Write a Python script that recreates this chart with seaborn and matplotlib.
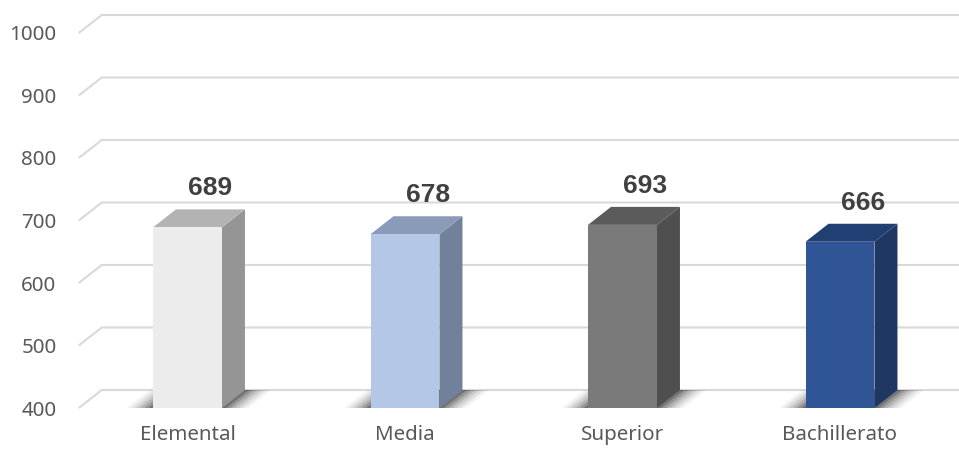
import matplotlib
matplotlib.use("Agg")
import matplotlib.pyplot as plt
from matplotlib.patches import Polygon
import seaborn as sns
import pandas as pd

categories = ["Elemental", "Media", "Superior", "Bachillerato"]
values = [689, 678, 693, 666]
front_colors = ["#ECECEC", "#B4C7E7", "#7A7A7A", "#2F5597"]
top_colors = ["#B3B3B3", "#8A9AB8", "#5B5B5B", "#223F74"]
side_colors = ["#959595", "#72819B", "#4F4F4F", "#1F3763"]
y_ticks = [400, 500, 600, 700, 800, 900, 1000]

sns.set_theme(style="white")
plt.rcParams["font.family"] = ["Noto Sans", "DejaVu Sans"]

fig = plt.figure(figsize=(9.59, 4.5), dpi=100)
ax = fig.add_axes([0.0821, 0.0933, 0.9072, 0.8334])

df = pd.DataFrame({"cat": categories, "val": values})
sns.barplot(data=df, x="cat", y="val", hue="cat", palette=front_colors,
            width=0.317, legend=False, ax=ax, saturation=1, linewidth=0)

ax.set_xlim(-0.5, 3.5)
ax.set_ylim(400, 1000)
ax.set_yticks(y_ticks)
ax.set_xlabel("")
ax.set_ylabel("")
for s in ax.spines.values():
    s.set_visible(False)
ax.tick_params(axis="both", length=0, labelcolor="#595959", labelsize=14.8)
ax.tick_params(axis="y", pad=16)
ax.tick_params(axis="x", pad=12)

# depth offsets in data units
x0, x1 = ax.get_xlim()
y0, y1 = ax.get_ylim()
dx = 23 / (ax.get_position().width * 959) * (x1 - x0)
dy = 18 / (ax.get_position().height * 450) * (y1 - y0)

# back-wall gridlines with floor/side diagonals
for v in y_ticks:
    ax.plot([x0, x0 + dx, x1 + dx], [v, v + dy, v + dy], color="#D9D9D9",
            lw=1.5, clip_on=False, zorder=0, solid_capstyle="butt")

shadow_layers = [(0.12, 0.05), (0.10, 0.07), (0.08, 0.09), (0.06, 0.12),
                 (0.04, 0.16), (0.02, 0.22)]

for i, p in enumerate(ax.patches):
    xl = p.get_x()
    w = p.get_width()
    h = p.get_height()
    top = p.get_y() + h
    xr = xl + w
    p.set_zorder(4)
    # floor shadow (soft)
    for ex, a in shadow_layers:
        sh = Polygon([(xl - ex, y0), (xr + ex, y0), (xr + dx + ex, y0 + dy),
                      (xl + dx - ex, y0 + dy)], closed=True,
                     facecolor="#000000", alpha=a, lw=0, zorder=1,
                     antialiased=True)
        ax.add_patch(sh)
    side = Polygon([(xr, y0), (xr + dx, y0 + dy), (xr + dx, top + dy), (xr, top)],
                   closed=True, facecolor=side_colors[i], lw=0, zorder=3, clip_on=False)
    ax.add_patch(side)
    tp = Polygon([(xl, top), (xr, top), (xr + dx, top + dy), (xl + dx, top + dy)],
                 closed=True, facecolor=top_colors[i], lw=0, zorder=3, clip_on=False)
    ax.add_patch(tp)
    ax.annotate(f"{values[i]:.0f}", (xl + w / 2 + dx, top + dy), xytext=(0, 10),
                textcoords="offset points", ha="center", va="baseline",
                fontsize=19, fontweight="bold", color="#404040",
                family=["Liberation Sans", "DejaVu Sans"], zorder=5,
                annotation_clip=False)

fig.savefig("out.png", dpi=100, facecolor="white")
